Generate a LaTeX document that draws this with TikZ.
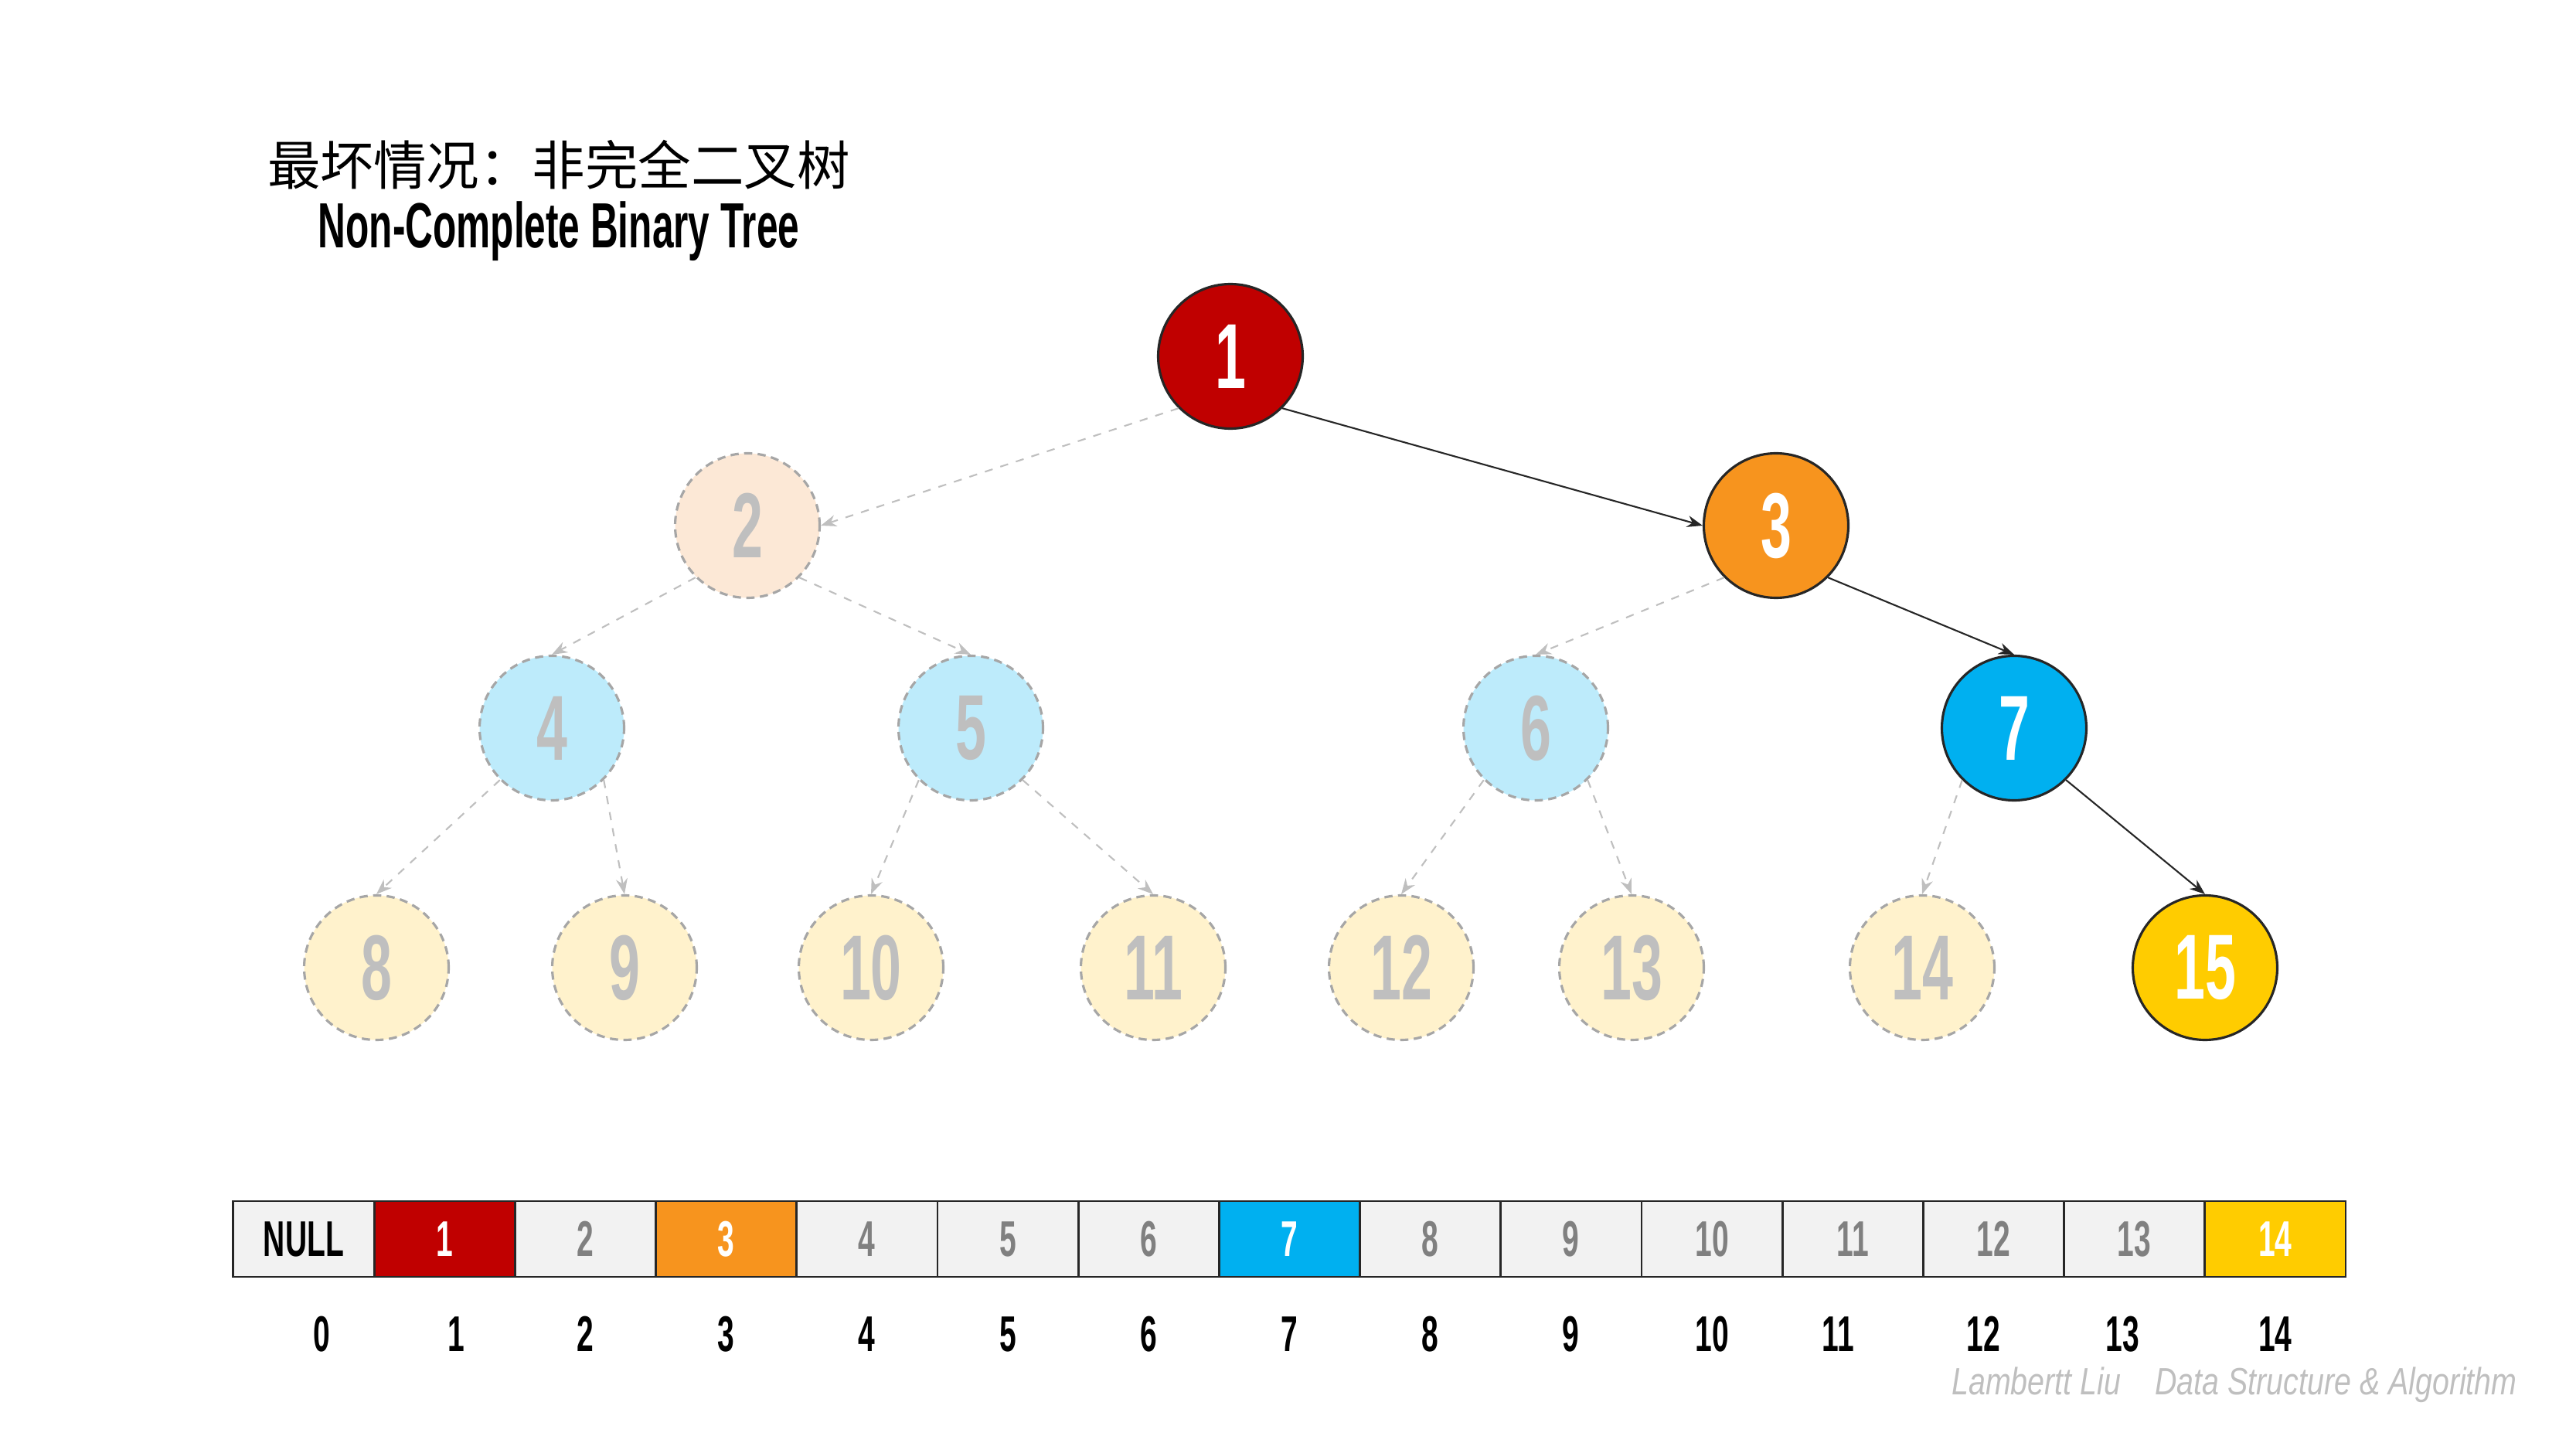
\documentclass[tikz,border=0pt]{standalone}
\usepackage{fontspec}
\setmainfont{Liberation Sans}
\newfontfamily\cjkfont{Noto Sans CJK SC}
\newfontfamily\condfont[FakeStretch=0.6]{Liberation Sans}
\newfontfamily\signfont[FakeStretch=0.8]{Liberation Sans}
\usepackage{tikz}
\usetikzlibrary{arrows.meta,positioning}
\definecolor{heapRed}{RGB}{192,0,0}
\definecolor{heapOrange}{RGB}{247,148,30}
\definecolor{heapBlue}{RGB}{0,176,240}
\definecolor{heapYellow}{RGB}{255,204,0}
\definecolor{fadeOrange}{RGB}{252,232,214}
\definecolor{fadeBlue}{RGB}{189,235,251}
\definecolor{fadeYellow}{RGB}{255,242,204}
\definecolor{cellGray}{RGB}{242,242,242}
\definecolor{edgeGray}{RGB}{191,191,191}

\begin{document}
\begin{tikzpicture}[>=Stealth,
  key/.style={circle, draw=black!85, line width=0.9pt, minimum size=1.87cm, inner sep=0pt,
    text=white, font=\condfont\bfseries\fontsize{34}{34}\selectfont},
  ghost/.style={key, draw=black!35, dash pattern=on 3pt off 2pt, text=edgeGray},
  hit/.style={->, black!85, line width=0.6pt},
  miss/.style={->, edgeGray, dashed, line width=0.6pt},
  cell/.style={draw=black!85, line width=0.8pt, outer sep=0pt, inner sep=0pt,
    minimum width=1.822cm, minimum height=0.98cm, fill=cellGray, text=black!50,
    font=\condfont\bfseries\fontsize{18.5}{18.5}\selectfont},
  idx/.style={font=\condfont\bfseries\fontsize{18.5}{18.5}\selectfont}]
\useasboundingbox (0,0) rectangle (33.33,18.75);

% title
\node[font=\cjkfont\fontsize{19.5}{19.5}\selectfont] (title) at (7.23,16.62) {最坏情况：非完全二叉树};
\node[font=\condfont\bfseries\fontsize{23.5}{23.5}\selectfont] (subtitle) at (7.23,15.76) {Non-Complete Binary Tree};

% tree
\node[key, fill=heapRed] (n1) at (15.92,14.14) {1};
\node[ghost, fill=fadeOrange] (n2) at (9.67,11.95) {2};
\node[key, fill=heapOrange] (n3) at (22.98,11.95) {3};
\node[ghost, fill=fadeBlue] (n4) at (7.14,9.33) {4};
\node[ghost, fill=fadeBlue] (n5) at (12.56,9.33) {5};
\node[ghost, fill=fadeBlue] (n6) at (19.87,9.33) {6};
\node[key, fill=heapBlue] (n7) at (26.06,9.33) {7};
\node[ghost, fill=fadeYellow] (n8) at (4.87,6.23) {8};
\node[ghost, fill=fadeYellow] (n9) at (8.08,6.23) {9};
\node[ghost, fill=fadeYellow] (n10) at (11.27,6.23) {10};
\node[ghost, fill=fadeYellow] (n11) at (14.92,6.23) {11};
\node[ghost, fill=fadeYellow] (n12) at (18.13,6.23) {12};
\node[ghost, fill=fadeYellow] (n13) at (21.11,6.23) {13};
\node[ghost, fill=fadeYellow] (n14) at (24.87,6.23) {14};
\node[key, fill=heapYellow] (n15) at (28.53,6.23) {15};

\draw[hit] (n1.-45) -- (n3.west);
\draw[hit] (n3.-45) -- (n7.north);
\draw[hit] (n7.-45) -- (n15.north);
\draw[miss] (n1.-135) -- (n2.east);
\draw[miss] (n2.-135) -- (n4.north);
\draw[miss] (n2.-45) -- (n5.north);
\draw[miss] (n3.-135) -- (n6.north);
\draw[miss] (n4.-135) -- (n8.north);
\draw[miss] (n4.-45) -- (n9.north);
\draw[miss] (n5.-135) -- (n10.north);
\draw[miss] (n5.-45) -- (n11.north);
\draw[miss] (n6.-135) -- (n12.north);
\draw[miss] (n6.-45) -- (n13.north);
\draw[miss] (n7.-135) -- (n14.north);

% array
\node[cell, text=black] (c0) at (3.93,2.72) {NULL};
\node[cell, right=0pt of c0, fill=heapRed, text=white] (c1) {1};
\node[cell, right=0pt of c1] (c2) {2};
\node[cell, right=0pt of c2, fill=heapOrange, text=white] (c3) {3};
\node[cell, right=0pt of c3] (c4) {4};
\node[cell, right=0pt of c4] (c5) {5};
\node[cell, right=0pt of c5] (c6) {6};
\node[cell, right=0pt of c6, fill=heapBlue, text=white] (c7) {7};
\node[cell, right=0pt of c7] (c8) {8};
\node[cell, right=0pt of c8] (c9) {9};
\node[cell, right=0pt of c9] (c10) {10};
\node[cell, right=0pt of c10] (c11) {11};
\node[cell, right=0pt of c11] (c12) {12};
\node[cell, right=0pt of c12] (c13) {13};
\node[cell, right=0pt of c13, fill=heapYellow, text=white] (c14) {14};

\node[idx] (i0) at ([xshift=2.3mm, yshift=-12.3mm]c0) {0};
\node[idx] (i1) at ([xshift=1.5mm, yshift=-12.3mm]c1) {1};
\node[idx] (i2) at ([yshift=-12.3mm]c2) {2};
\node[idx] (i3) at ([yshift=-12.3mm]c3) {3};
\node[idx] (i4) at ([yshift=-12.3mm]c4) {4};
\node[idx] (i5) at ([yshift=-12.3mm]c5) {5};
\node[idx] (i6) at ([yshift=-12.3mm]c6) {6};
\node[idx] (i7) at ([yshift=-12.3mm]c7) {7};
\node[idx] (i8) at ([yshift=-12.3mm]c8) {8};
\node[idx] (i9) at ([yshift=-12.3mm]c9) {9};
\node[idx] (i10) at ([yshift=-12.3mm]c10) {10};
\node[idx] (i11) at ([xshift=-1.9mm, yshift=-12.3mm]c11) {11};
\node[idx] (i12) at ([xshift=-1.3mm, yshift=-12.3mm]c12) {12};
\node[idx] (i13) at ([xshift=-1.5mm, yshift=-12.3mm]c13) {13};
\node[idx] (i14) at ([yshift=-12.3mm]c14) {14};

% signature
\node[anchor=east, text=edgeGray, font=\signfont\itshape\fontsize{14}{14}\selectfont] (sign)
  at (32.69,0.83) {Lambertt Liu\hspace{0.9em}Data Structure \& Algorithm};
\end{tikzpicture}
\end{document}
